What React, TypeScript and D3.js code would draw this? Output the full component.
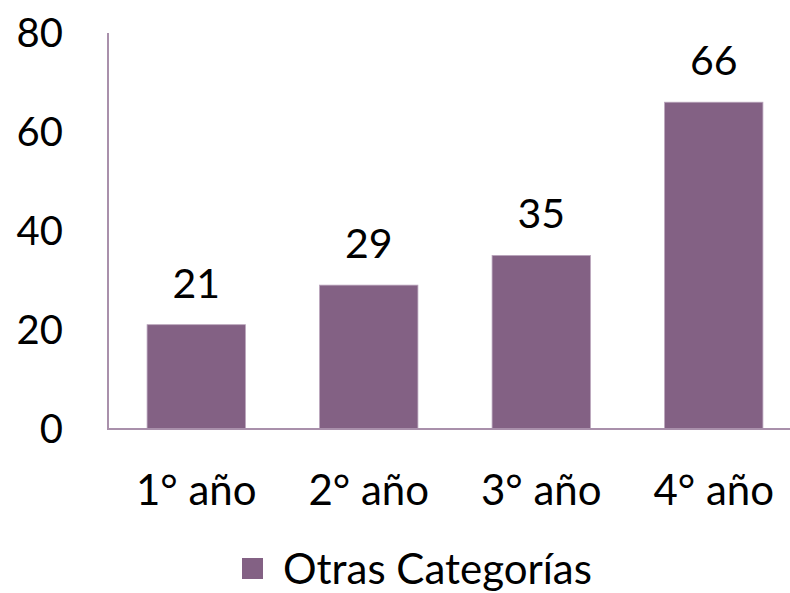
import { useMemo } from 'react';
import * as d3 from 'd3';

const categories = ['1° año', '2° año', '3° año', '4° año'];
const values = [21, 29, 35, 66];
const yTicks = [0, 20, 40, 60, 80];
const seriesName = 'Otras Categorías';

const BAR = '#836184';
const AXIS = '#a990ab';
const FONT = 'Lato, "Open Sans", sans-serif';

export default function App() {
  const width = 790;
  const height = 593;

  const x = useMemo(
    () => d3.scaleBand<string>().domain(categories).range([110, 800]).paddingInner(0.43).paddingOuter(0.215),
    []
  );
  const y = useMemo(() => d3.scaleLinear().domain([0, 80]).range([428.5, 33]), []);

  return (
    <div style={{ position: 'absolute', left: 0, top: 0 }}>
      <svg width={width} height={height} style={{ display: 'block' }} fontFamily={FONT}>
        <rect width={width} height={height} fill="#fff" />
        {/* Y axis labels */}
        {yTicks.map((t) => (
          <text key={t} x={63} y={y(t) + 14} textAnchor="end" fontSize={40} fill="#000">
            {t}
          </text>
        ))}
        {/* Bars */}
        {categories.map((c, i) => (
          <g key={c}>
            <rect
              x={x(c)}
              y={y(values[i])}
              width={x.bandwidth()}
              height={y(0) - y(values[i])}
              fill={BAR}
              stroke="#b9a4bb"
              strokeWidth={0.8}
            />
            <text
              x={(x(c) ?? 0) + x.bandwidth() / 2}
              y={y(values[i]) - 27}
              textAnchor="middle"
              fontSize={41}
              fill="#000"
            >
              {values[i]}
            </text>
            <text x={(x(c) ?? 0) + x.bandwidth() / 2} y={505} textAnchor="middle" fontSize={42} fill="#000">
              {c}
            </text>
          </g>
        ))}
        {/* Axes */}
        <line x1={108} x2={108} y1={33} y2={y(0) + 1} stroke={AXIS} strokeWidth={2} />
        <line x1={107} x2={width} y1={y(0) + 0.5} y2={y(0) + 0.5} stroke={AXIS} strokeWidth={2} />
        {/* Legend */}
        <rect x={242} y={558} width={21} height={21} fill={BAR} />
        <text x={283} y={584} fontSize={42} fill="#000">
          {seriesName}
        </text>
      </svg>
    </div>
  );
}
